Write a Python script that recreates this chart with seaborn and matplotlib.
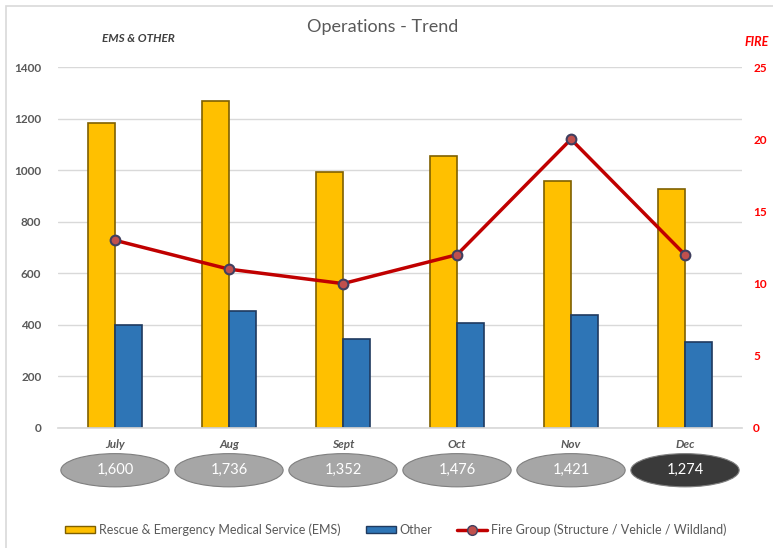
import numpy as np
import pandas as pd
import seaborn as sns
import matplotlib.pyplot as plt
from matplotlib.patches import Ellipse, Rectangle, Patch
from matplotlib.lines import Line2D
import matplotlib.transforms as mtransforms

# chart values
months = ["July", "Aug", "Sept", "Oct", "Nov", "Dec"]
ems = [1182, 1270, 992, 1055, 958, 925]
other = [400, 452, 345, 406, 440, 332]
fire = [13, 11, 10, 12, 20, 12]
totals = ["1,600", "1,736", "1,352", "1,476", "1,421", "1,274"]
series_names = ["Rescue & Emergency Medical Service (EMS)", "Other"]
fire_name = "Fire Group (Structure / Vehicle / Wildland)"

GOLD = "#FFC000"
BLUE = "#2E75B6"
RED = "#C00000"
GRAY_TXT = "#595959"

sns.set_theme(style="white")
plt.rcParams["font.family"] = ["Lato", "DejaVu Sans"]

df = pd.DataFrame({
    "month": months * 2,
    "value": ems + other,
    "series": [series_names[0]] * len(months) + [series_names[1]] * len(months),
})

fig = plt.figure(figsize=(7.73, 5.48), dpi=100)
ax = fig.add_axes([58 / 773, 1 - 428 / 548, 684 / 773, 361 / 548])

sns.barplot(data=df, x="month", y="value", hue="series", order=months,
            palette=[GOLD, BLUE], saturation=1, width=0.48, ax=ax, legend=False,
            edgecolor="#7F6000", linewidth=1.2)
# darker edges on the blue bars
for bar in ax.patches[len(months):]:
    bar.set_edgecolor("#1F3A5F")

ax.set_ylim(0, 1400)
ax.set_yticks(range(0, 1401, 200))
ax.set_xlim(-0.5, len(months) - 0.5)
ax.grid(axis="y", color="#D9D9D9", linewidth=1)
ax.set_axisbelow(True)
for s in ["top", "right", "left"]:
    ax.spines[s].set_visible(False)
ax.spines["bottom"].set_color("#D9D9D9")
ax.set_xlabel("")
ax.set_ylabel("")
ax.tick_params(axis="y", length=0, pad=12, labelsize=8.5, labelcolor=GRAY_TXT)
ax.tick_params(axis="x", length=0, pad=8, labelsize=8.5, labelcolor=GRAY_TXT)
for lab in ax.get_yticklabels():
    lab.set_fontweight("bold")
for lab in ax.get_xticklabels():
    lab.set_fontweight("bold")
    lab.set_fontstyle("italic")

ax2 = ax.twinx()
sns.lineplot(x=np.arange(len(months)), y=fire, ax=ax2, color=RED, linewidth=2.5,
             marker="o", markersize=7, markerfacecolor="#C0504D",
             markeredgecolor="#3F3F5F", markeredgewidth=1.5)
ax2.set_ylim(0, 25)
ax2.set_yticks(range(0, 26, 5))
ax2.set_xlim(-0.5, len(months) - 0.5)
for s in ax2.spines.values():
    s.set_visible(False)
ax2.tick_params(axis="y", length=0, pad=8, labelsize=8.5, labelcolor="#FF0000")
for lab in ax2.get_yticklabels():
    lab.set_fontweight("bold")
ax2.grid(False)

# total ellipses under each month
trans = mtransforms.blended_transform_factory(ax.transData, ax.transAxes)
for i, t in enumerate(totals):
    last = i == len(totals) - 1
    ax.add_patch(Ellipse((i, -0.117), 0.95, 0.092, transform=trans, clip_on=False,
                         facecolor="#3A3A3A" if last else "#A6A6A6",
                         edgecolor="#7F7F7F", linewidth=0.8))
    ax.text(i, -0.117, t, transform=trans, ha="center", va="center",
            color="white", fontsize=10.5)

# titles
fig.text(0.495, 1 - 27 / 548, "Operations - Trend", ha="center", va="center",
         fontsize=13, color=GRAY_TXT)
fig.text(138 / 773, 1 - 38 / 548, "EMS & OTHER", ha="center", va="center",
         fontsize=8.5, color="#404040", fontweight="bold", fontstyle="italic")
fig.text(757 / 773, 1 - 42 / 548, "FIRE", ha="center", va="center",
         fontsize=9, color="#FF0000", fontweight="bold", fontstyle="italic")

# outer chart border
fig.patches.append(Rectangle((6 / 773, -0.01), 1.0, 1 - 6 / 548 + 0.01,
                             transform=fig.transFigure, fill=False,
                             edgecolor="#D9D9D9", linewidth=1.2))

handles = [
    Patch(facecolor=GOLD, edgecolor="#7F6000"),
    Patch(facecolor=BLUE, edgecolor="#1F3A5F"),
    Line2D([], [], color=RED, linewidth=2.5, marker="o", markersize=7,
           markerfacecolor="#C0504D", markeredgecolor="#3F3F5F"),
]
fig.legend(handles, series_names + [fire_name], loc="center",
           bbox_to_anchor=(0.512, 1 - 530 / 548), ncol=3, frameon=False,
           fontsize=9, labelcolor=GRAY_TXT, handlelength=2.4,
           handleheight=0.5, columnspacing=2.0, handletextpad=0.3)

fig.savefig("out.png", dpi=100, facecolor="white")
